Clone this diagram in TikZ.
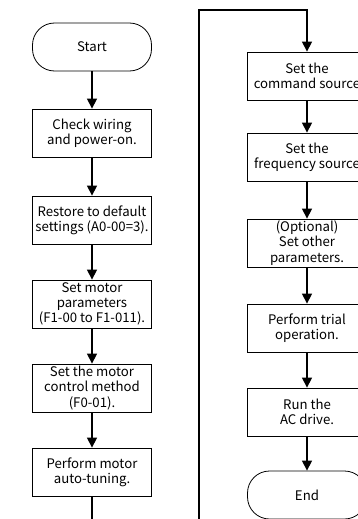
\documentclass[tikz,border=0pt]{standalone}
\usepackage{fontspec}
\setmainfont{Noto Sans CJK SC}
\usetikzlibrary{arrows.meta}
\newcommand{\stepnode}[3]{\node[box] (#1) at (#2) {#3}}

\begin{document}
\begin{tikzpicture}[x=1pt,y=-1pt,
    box/.style={draw,line width=0.8pt,minimum width=119pt,minimum height=48pt,
      inner sep=0pt,align=center,font=\fontsize{13.2}{15.3}\selectfont},
    term/.style={box,rounded corners=22pt},
    flow/.style={line width=1.3pt,-{Triangle[width=10pt,length=10pt]}}]
    \clip (0,0) rectangle (358,519);

    % left column
    \node[term] (start) at (92,47) {Start};
    \stepnode{wire}{92,133}{Check wiring\\and power-on.};
    \stepnode{reset}{92,220}{Restore to default\\settings (A0-00=3).};
    \stepnode{motor}{92,304}{Set motor\\parameters\\(F1-00 to F1-011).};
    \stepnode{ctrl}{92,388}{Set the motor\\control method\\(F0-01).};
    \stepnode{tune}{92,472}{Perform motor\\auto-tuning.};
    \coordinate (lbot) at (92,530);

    % right column
    \stepnode{cmd}{307,76}{Set the\\command source};
    \stepnode{freq}{307,157}{Set the\\frequency source};
    \stepnode{other}{307,243}{(Optional)\\Set other\\parameters.};
    \stepnode{trial}{307,328}{Perform trial\\operation.};
    \stepnode{run}{307,412}{Run the\\AC drive.};
    \node[term] (end) at (307,495) {End};
    \coordinate (rbot) at (199,530);
    \coordinate (rtop) at (307,10);

    \draw[flow] (start) -- (wire);
    \draw[flow] (wire) -- (reset);
    \draw[flow] (reset) -- (motor);
    \draw[flow] (motor) -- (ctrl);
    \draw[flow] (ctrl) -- (tune);
    \draw[line width=1.3pt] (tune) -- (lbot);

    \draw[flow] (rbot) |- (rtop) -- (cmd);
    \draw[flow] (cmd) -- (freq);
    \draw[flow] (freq) -- (other);
    \draw[flow] (other) -- (trial);
    \draw[flow] (trial) -- (run);
    \draw[flow] (run) -- (end);
\end{tikzpicture}
\end{document}
